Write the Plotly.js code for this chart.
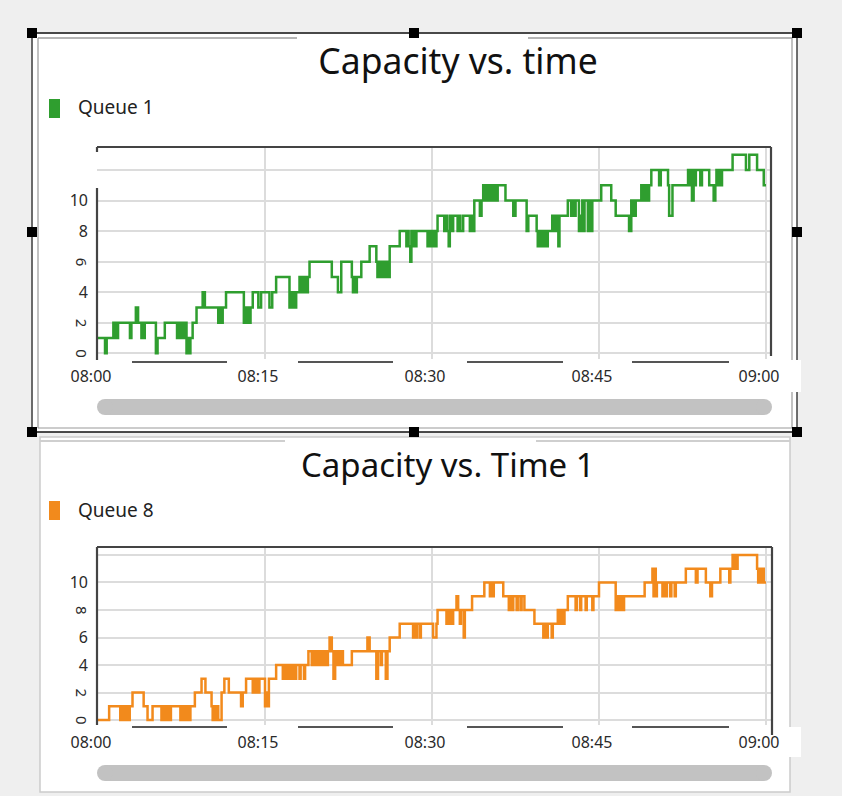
<!DOCTYPE html>
<html><head><meta charset="utf-8">
<script src="https://cdn.plot.ly/plotly-3.0.1.min.js"></script>
<style>html,body{margin:0;padding:0;background:#efefef;overflow:hidden}#chart{width:842px;height:796px}</style>
</head><body><div id="chart"></div>
<script>
// ---- data (minutes after 08:00, capacity) ----
const q1Minutes = [0,0.63,0.78,1.38,1.5,1.6,1.7,1.8,2.87,3.0,3.4,3.6,3.9,4.0,4.1,4.2,5.2,5.35,6.0,7.1,7.2,7.3,7.4,7.5,7.6,7.7,7.8,7.95,8.05,8.15,8.3,8.5,8.85,9.4,9.6,10.8,10.95,11.05,11.2,11.5,13.1,13.2,13.3,13.45,13.55,13.7,13.9,14.4,14.65,15.4,15.65,16.0,17.2,17.3,17.4,17.5,17.6,17.8,18.1,18.2,18.35,18.45,18.6,18.7,18.85,19.0,21.0,21.55,21.85,22.8,22.9,23.0,23.1,23.25,23.65,24.4,25.0,25.1,25.2,25.3,25.45,25.55,25.7,25.8,25.95,26.05,26.2,27.1,27.7,27.8,27.9,28.05,28.15,28.3,28.4,28.5,28.6,29.6,29.7,29.8,29.95,30.05,30.2,30.3,30.4,30.5,31.1,31.2,31.35,31.5,31.6,31.75,31.9,32.3,32.45,32.55,32.8,33.4,33.5,33.6,33.8,34.3,34.45,34.6,34.7,34.8,34.9,35.0,35.1,35.2,35.35,35.45,35.6,35.7,35.8,35.9,36.6,37.3,37.5,38.5,38.65,39.4,39.5,39.6,39.7,39.85,39.95,40.1,40.2,40.4,40.8,40.9,41.0,41.1,41.2,41.35,41.45,42.2,42.5,42.6,42.7,42.9,43.2,43.3,43.4,43.5,43.6,43.7,44.0,44.1,44.25,44.4,45.2,46.1,46.5,47.7,47.9,48.0,48.1,48.2,48.3,48.8,48.9,49.0,49.1,49.25,49.35,49.5,49.7,50.4,50.55,51.2,51.3,51.6,53.0,53.1,53.2,53.35,53.5,53.6,53.7,54.1,54.25,54.9,55.3,55.45,55.55,55.65,55.8,55.9,56.05,57.0,58.2,58.5,59.2,59.8,60.0];
const q1Values  = [1,0,1,2,1,2,1,2,1,2,3,2,1,2,1,2,0,1,2,1,2,1,2,1,2,1,2,0,1,0,1,2,3,4,3,2,3,2,3,4,2,3,2,3,2,3,4,3,4,3,4,5,3,4,3,4,3,4,5,4,5,4,5,4,5,6,5,4,6,5,4,5,4,5,6,7,6,5,6,5,6,5,6,5,6,5,7,8,7,8,7,6,8,7,8,7,8,7,8,7,8,7,8,7,8,9,8,9,8,7,9,8,9,8,9,8,9,8,9,8,10,9,10,11,10,11,10,11,10,11,10,11,10,11,10,11,10,9,10,8,9,8,7,8,7,8,7,8,7,8,9,8,9,8,9,7,9,10,9,10,9,10,8,9,8,10,8,10,8,10,8,10,11,10,9,8,10,9,10,9,10,11,10,11,10,11,10,11,12,11,12,11,9,11,12,11,12,10,12,11,12,11,12,11,10,11,12,11,12,11,12,13,12,13,12,11,11];

const q8Minutes = [0,1.0,2.0,2.1,2.25,2.35,2.5,2.6,2.75,2.85,3.1,4.1,4.45,4.9,5.7,5.8,5.95,6.05,6.2,6.3,6.45,6.55,7.4,7.5,7.65,7.75,7.9,8.0,8.15,8.3,8.7,9.3,9.65,10.2,10.3,10.45,10.55,10.7,10.8,11.1,11.35,11.75,12.85,13.0,13.3,13.9,14.0,14.1,14.25,14.35,14.5,15.0,15.1,15.2,15.35,16.0,16.6,16.7,16.85,16.95,17.1,17.2,17.4,17.5,17.7,17.8,18.1,18.2,18.5,18.6,18.9,19.2,19.3,19.45,19.55,19.7,19.8,20.0,20.1,20.3,20.4,20.55,20.65,20.8,21.0,21.15,21.3,21.45,21.55,21.7,21.8,22.0,22.8,24.2,24.4,25.0,25.15,25.4,25.5,25.85,26.0,26.2,27.1,28.3,28.4,28.55,28.65,28.9,29.0,30.1,30.4,30.5,31.3,31.4,31.55,31.65,31.8,31.9,32.2,32.35,32.5,32.6,32.85,32.95,33.6,34.7,35.2,35.3,35.45,35.55,36.4,36.9,37.0,37.2,37.3,37.6,37.7,37.95,38.05,38.3,39.2,40.0,40.1,40.3,40.4,40.75,40.85,41.3,41.4,41.6,41.7,41.9,42.2,42.9,43.0,43.3,43.4,43.8,43.9,44.4,44.5,45.0,46.5,46.6,46.7,46.8,46.9,47.0,47.1,47.25,47.4,49.1,49.8,49.9,50.0,50.1,50.2,50.7,50.8,51.0,51.1,51.4,51.5,51.8,51.9,52.8,53.7,53.85,54.6,55.0,55.15,55.9,56.7,56.8,57.0,57.1,57.2,57.35,57.45,59.2,59.3,59.4,59.55,59.65,59.8,60.0];
const q8Values  = [0,1,0,1,0,1,0,1,0,1,2,1,0,1,0,1,0,1,0,1,0,1,0,1,0,1,0,1,0,1,2,3,2,1,0,1,0,1,0,2,3,2,1,2,3,2,3,2,3,2,3,1,2,1,3,4,3,4,3,4,3,4,3,4,3,4,3,4,3,4,5,4,5,4,5,4,5,4,5,4,5,4,5,6,5,3,5,4,5,4,5,4,5,6,5,3,5,4,5,3,5,6,7,6,7,6,7,6,7,6,7,8,7,8,7,8,7,8,9,8,7,8,6,8,9,10,9,10,9,10,9,8,9,8,9,8,9,8,9,8,7,6,7,6,7,6,7,8,7,8,7,8,9,8,9,8,9,8,9,8,9,10,8,9,8,9,8,9,8,9,9,10,11,9,11,9,10,9,10,9,10,9,10,9,10,11,10,11,10,9,10,11,10,11,12,11,12,11,12,11,10,11,10,11,10,10];

const xTickMinutes = [0,15,30,45,60];
const xTickLabels = ['08:00','08:15','08:30','08:45','09:00'];
const yGridValues = [0,2,4,6,8,10,12];
const yTickLabels1 = ['','','4','','8','10',''];
const yRotated1 = ['0','2','6'];
const yRotatedVals1 = [0,2,6];
const yTickLabels2 = ['','','4','6','','10',''];
const yRotated2 = ['0','2','8'];
const yRotatedVals2 = [0,2,8];

// ---- helpers ----
const W = 842, H = 796;
const fx = p => p / W;
const fy = p => 1 - p / H;
const base = Date.UTC(2024, 0, 1, 8, 0, 0);
const toTime = m => new Date(base + m * 60000).toISOString().replace('T', ' ').replace('Z', '');

const GREEN = '#2f9e2f', ORANGE = '#f28a1c';
const FONT = 'Noto Sans, Open Sans, sans-serif';

const traces = [
  {x: q1Minutes.map(toTime), y: q1Values, xaxis: 'x', yaxis: 'y', type: 'scatter', mode: 'lines',
   line: {shape: 'hv', color: GREEN, width: 2.5}, name: 'Queue 1', showlegend: false, hoverinfo: 'x+y'},
  {x: q8Minutes.map(toTime), y: q8Values, xaxis: 'x2', yaxis: 'y2', type: 'scatter', mode: 'lines',
   line: {shape: 'hv', color: ORANGE, width: 2.5}, name: 'Queue 8', showlegend: false, hoverinfo: 'x+y'}
];

function xAxis(anchor) {
  return {
    type: 'date', domain: [fx(97), fx(772)], anchor: anchor,
    range: [toTime(-0.09), toTime(60.54)],
    tickvals: xTickMinutes.map(toTime), ticktext: xTickLabels,
    showgrid: true, gridcolor: '#dcdcdc', gridwidth: 2, zeroline: false, showline: false,
    ticks: '', ticklabelstandoff: 6, ticklabelshift: -7,
    tickfont: {family: FONT, size: 16, color: '#2a2a2a'}, fixedrange: true
  };
}
function yAxis(dom, range, texts, anchor) {
  return {
    domain: dom, range: range, anchor: anchor,
    tickvals: yGridValues, ticktext: texts,
    showgrid: true, gridcolor: '#dcdcdc', gridwidth: 2, zeroline: false, showline: false,
    ticks: '', ticklabelstandoff: 8,
    tickfont: {family: FONT, size: 16, color: '#2a2a2a'}, fixedrange: true
  };
}

const shapes = [];
const rect = (x0, y0, x1, y1, o) => shapes.push(Object.assign({type: 'rect', xref: 'paper', yref: 'paper',
  x0: fx(x0), x1: fx(x1), y0: fy(y0), y1: fy(y1), layer: 'below', line: {width: 0}}, o));
const line = (x0, y0, x1, y1, color, width, layer) => shapes.push({type: 'line', xref: 'paper', yref: 'paper',
  x0: fx(x0), x1: fx(x1), y0: fy(y0), y1: fy(y1), layer: layer || 'below', line: {color: color, width: width}});
const circ = (cx, cy, r, color) => shapes.push({type: 'circle', xref: 'paper', yref: 'paper',
  x0: fx(cx - r), x1: fx(cx + r), y0: fy(cy + r), y1: fy(cy - r), layer: 'below', fillcolor: color, line: {width: 0}});

// panels
rect(33, 34, 797, 432, {fillcolor: '#ffffff'});
rect(40, 437, 790, 792, {fillcolor: '#ffffff', line: {color: '#cccccc', width: 1.5}});
// top group box
line(38, 38, 297, 38, '#b5b5b5', 2);
line(528, 38, 792, 38, '#b5b5b5', 2);
line(38, 38, 38, 428, '#999999', 1.2);
line(792, 38, 792, 428, '#999999', 1.2);
line(38, 428, 792, 428, '#999999', 1.2);
// selection frame
line(32, 33, 797, 33, '#111111', 1.5);
line(32, 33, 32, 432, '#111111', 1.2);
line(797, 33, 797, 432, '#111111', 1.2);
line(32, 432, 797, 432, '#111111', 1.5);
// bottom group box top line
line(40, 441, 285, 441, '#cfcfcf', 2);
line(536, 441, 790, 441, '#cfcfcf', 2);
// white behind 09:00 labels
rect(770, 360, 801, 392, {fillcolor: '#ffffff'});
rect(770, 727, 801, 757, {fillcolor: '#ffffff'});
// handles
[[32,33],[414,33],[797,33],[32,232],[797,232],[32,432],[414,432],[797,432]].forEach(([cx, cy]) =>
  rect(cx - 5, cy - 5, cx + 5, cy + 5, {fillcolor: '#000000'}));
// scrollbars
[[407],[773]].forEach(([cy]) => {
  rect(105, cy - 8, 764, cy + 8, {fillcolor: '#c2c2c2'});
  circ(105, cy, 8, '#c2c2c2');
  circ(764, cy, 8, '#c2c2c2');
});
// axis segments below plots
[[132,227],[298,393],[467,563],[632,729]].forEach(([a, b]) => {
  line(a, 362, b, 362, '#555555', 2.2);
  line(a, 727, b, 727, '#555555', 2.2);
});
// plot borders
line(97, 147, 771, 147, '#444444', 2.2, 'above');
line(97, 147, 97, 152, '#444444', 2.2, 'above');
line(771, 147, 771, 356, '#444444', 2.2, 'above');
line(97, 188, 97, 360, '#444444', 2.2, 'above');
line(97, 547, 772, 547, '#444444', 2.2, 'above');
line(772, 547, 772, 735, '#444444', 2.2, 'above');
line(97, 547, 97, 725, '#444444', 2.2, 'above');
// legend markers
rect(49, 99, 60, 118, {fillcolor: GREEN});
rect(49, 501, 60, 520, {fillcolor: ORANGE});

const annotations = [
  {text: 'Capacity vs. Time 1', xref: 'paper', yref: 'paper', x: fx(448), y: fy(465), xanchor: 'center', yanchor: 'middle',
   showarrow: false, font: {family: FONT, size: 33, color: '#111'}},
  {text: 'Queue 1', xref: 'paper', yref: 'paper', x: fx(76), y: fy(107), xanchor: 'left', yanchor: 'middle',
   showarrow: false, font: {family: FONT, size: 19, color: '#222'}},
  {text: 'Queue 8', xref: 'paper', yref: 'paper', x: fx(76), y: fy(510), xanchor: 'left', yanchor: 'middle',
   showarrow: false, font: {family: FONT, size: 19, color: '#222'}}
];
yRotated1.forEach((t, i) => annotations.push({text: t, xref: 'paper', yref: 'y', x: fx(82), y: yRotatedVals1[i],
  xanchor: 'center', yanchor: 'middle', textangle: 90, showarrow: false, font: {family: FONT, size: 15, color: '#2a2a2a'}}));
yRotated2.forEach((t, i) => annotations.push({text: t, xref: 'paper', yref: 'y2', x: fx(82), y: yRotatedVals2[i],
  xanchor: 'center', yanchor: 'middle', textangle: 90, showarrow: false, font: {family: FONT, size: 15, color: '#2a2a2a'}}));

const layout = {
  width: W, height: H, margin: {l: 0, r: 0, t: 0, b: 0},
  paper_bgcolor: '#efefef', plot_bgcolor: 'rgba(0,0,0,0)',
  title: {text: 'Capacity vs. time', xref: 'paper', yref: 'paper', x: fx(458), y: fy(62), xanchor: 'center', yanchor: 'middle',
          font: {family: FONT, size: 35.5, color: '#111'}},
  showlegend: false,
  xaxis: xAxis('y'),
  yaxis: yAxis([fy(359), fy(147)], [-0.37, 13.5], yTickLabels1, 'x'),
  xaxis2: xAxis('y2'),
  yaxis2: yAxis([fy(725), fy(547)], [-0.36, 12.58], yTickLabels2, 'x2'),
  shapes: shapes, annotations: annotations
};

Plotly.newPlot('chart', traces, layout, {displayModeBar: false, staticPlot: true});
</script></body></html>
